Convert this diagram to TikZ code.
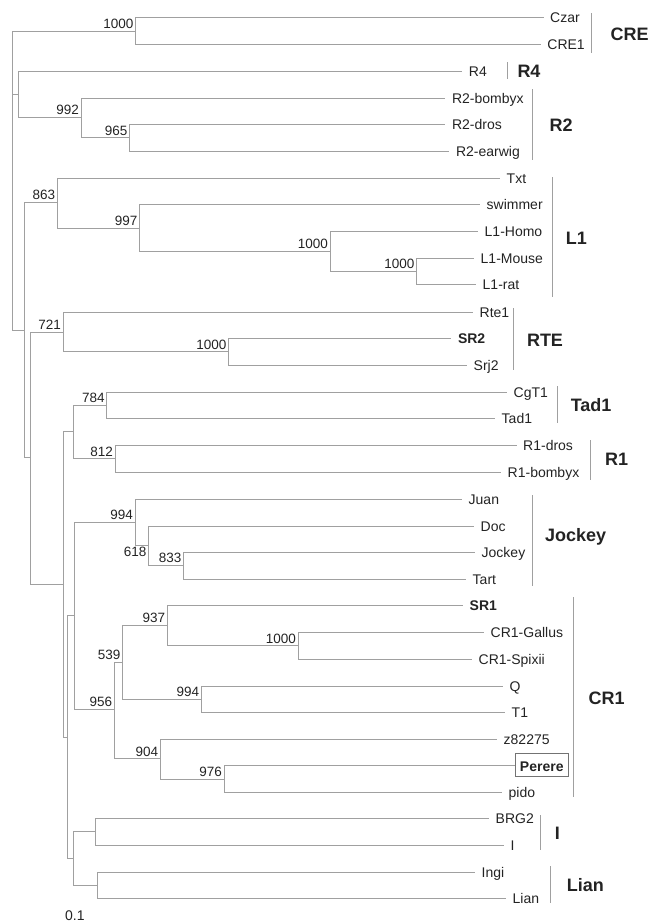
\documentclass[tikz,border=0pt]{standalone}
\usepackage{fontspec}
\setmainfont{Liberation Sans}
\usepackage{tikz}

\definecolor{branch}{RGB}{160,160,160}
\definecolor{ink}{RGB}{35,35,35}

\begin{document}
\begin{tikzpicture}[x=1pt, y=-1pt,
    every node/.style={text=ink, font=\fontsize{14}{16}\selectfont},
    br/.style={draw=branch, line width=.9pt},
    tip/.style={anchor=west, inner xsep=6.5pt, inner ysep=1pt, text height=10pt, text depth=0pt},
    bold/.style={font=\fontsize{14}{16}\selectfont\bfseries},
    boot/.style={anchor=south east, inner xsep=2pt, inner ysep=2pt, text depth=0pt, font=\fontsize{13.5}{15}\selectfont},
    group/.style={anchor=west, inner sep=0pt, text height=12.9pt, text depth=0pt, font=\fontsize{18}{20}\selectfont\bfseries}]
    \useasboundingbox (0, 0) rectangle (650, 922);

    % tips
    \node [tip] (czar) at (543.5, 17.5) {Czar};
    \node [tip] (cre1) at (540.7, 44) {CRE1};
    \node [tip] (r4) at (462.2, 71) {R4};
    \node [tip] (r2bom) at (445.3, 98) {R2-bombyx};
    \node [tip] (r2dro) at (445.3, 124) {R2-dros};
    \node [tip] (r2ear) at (449.3, 151) {R2-earwig};
    \node [tip] (txt) at (500, 178) {Txt};
    \node [tip] (swim) at (480, 204) {swimmer};
    \node [tip] (l1hom) at (478, 231) {L1-Homo};
    \node [tip] (l1mou) at (474, 258) {L1-Mouse};
    \node [tip] (l1rat) at (476, 284) {L1-rat};
    \node [tip] (rte1) at (473, 312) {Rte1};
    \node [tip, bold] (sr2) at (451.3, 338) {SR2};
    \node [tip] (srj2) at (467, 365) {Srj2};
    \node [tip] (cgt1) at (507, 392) {CgT1};
    \node [tip] (tad1) at (495, 418) {Tad1};
    \node [tip] (r1dro) at (516.5, 445) {R1-dros};
    \node [tip] (r1bom) at (501, 472) {R1-bombyx};
    \node [tip] (juan) at (462, 499) {Juan};
    \node [tip] (doc) at (474, 526) {Doc};
    \node [tip] (jock) at (475, 552) {Jockey};
    \node [tip] (tart) at (466, 579) {Tart};
    \node [tip, bold] (sr1) at (463, 605) {SR1};
    \node [tip] (crgal) at (484, 632) {CR1-Gallus};
    \node [tip] (crspi) at (472, 659) {CR1-Spixii};
    \node [tip] (q) at (503, 686) {Q};
    \node [tip] (t1) at (505, 712) {T1};
    \node [tip] (z82) at (497, 739) {z82275};
    \node [tip, bold, draw=black!55, line width=.9pt, inner xsep=4.5pt, inner ysep=5pt, text height=12.6pt] (perere) at (515, 765) {Perere};
    \node [tip] (pido) at (502, 792) {pido};
    \node [tip] (brg2) at (489, 818) {BRG2};
    \node [tip] (ii) at (504, 845) {I};
    \node [tip] (ingi) at (475, 872) {Ingi};
    \node [tip] (lian) at (506, 898) {Lian};

    % internal nodes
    \coordinate (root) at (12.5, 31);
    \coordinate (ncre) at (135.5, 31);
    \coordinate (nr) at (18, 94);
    \coordinate (n992) at (81, 117);
    \coordinate (n965) at (129.7, 137.5);
    \coordinate (n24) at (24, 330);
    \coordinate (n863) at (57.3, 202);
    \coordinate (n997) at (139.6, 228);
    \coordinate (nl1) at (330, 251);
    \coordinate (nmr) at (416.5, 271);
    \coordinate (n31) at (30.7, 457);
    \coordinate (n721) at (63, 332);
    \coordinate (nrte) at (228.6, 351.5);
    \coordinate (n63) at (63.3, 584);
    \coordinate (n73) at (73.3, 431);
    \coordinate (n784) at (106.8, 405);
    \coordinate (n812) at (115, 458.5);
    \coordinate (n68) at (67.7, 737);
    \coordinate (n74) at (74, 615);
    \coordinate (n994j) at (135, 522);
    \coordinate (n618) at (148.7, 545);
    \coordinate (n833) at (183.7, 565);
    \coordinate (n956) at (114.3, 709);
    \coordinate (n539) at (122.7, 662);
    \coordinate (n937) at (167.3, 625);
    \coordinate (ncr) at (298.2, 645.5);
    \coordinate (n994q) at (201.3, 699);
    \coordinate (n904) at (160.3, 758.5);
    \coordinate (n976) at (224, 779);
    \coordinate (nil) at (73.3, 858);
    \coordinate (ni) at (95.7, 831.5);
    \coordinate (nlian) at (97.3, 885);

    % branches
    \draw [br] (root) |- (ncre) (root) |- (nr) (root) |- (n24);
    \draw [br] (ncre) |- (czar) (ncre) |- (cre1);
    \draw [br] (nr) |- (r4) (nr) |- (n992);
    \draw [br] (n992) |- (r2bom) (n992) |- (n965);
    \draw [br] (n965) |- (r2dro) (n965) |- (r2ear);
    \draw [br] (n24) |- (n863) (n24) |- (n31);
    \draw [br] (n863) |- (txt) (n863) |- (n997);
    \draw [br] (n997) |- (swim) (n997) |- (nl1);
    \draw [br] (nl1) |- (l1hom) (nl1) |- (nmr);
    \draw [br] (nmr) |- (l1mou) (nmr) |- (l1rat);
    \draw [br] (n31) |- (n721) (n31) |- (n63);
    \draw [br] (n721) |- (rte1) (n721) |- (nrte);
    \draw [br] (nrte) |- (sr2) (nrte) |- (srj2);
    \draw [br] (n63) |- (n73) (n63) |- (n68);
    \draw [br] (n73) |- (n784) (n73) |- (n812);
    \draw [br] (n784) |- (cgt1) (n784) |- (tad1);
    \draw [br] (n812) |- (r1dro) (n812) |- (r1bom);
    \draw [br] (n68) |- (n74) (n68) |- (nil);
    \draw [br] (n74) |- (n994j) (n74) |- (n956);
    \draw [br] (n994j) |- (juan) (n994j) |- (n618);
    \draw [br] (n618) |- (doc) (n618) |- (n833);
    \draw [br] (n833) |- (jock) (n833) |- (tart);
    \draw [br] (n956) |- (n539) (n956) |- (n904);
    \draw [br] (n539) |- (n937) (n539) |- (n994q);
    \draw [br] (n937) |- (sr1) (n937) |- (ncr);
    \draw [br] (ncr) |- (crgal) (ncr) |- (crspi);
    \draw [br] (n994q) |- (q) (n994q) |- (t1);
    \draw [br] (n904) |- (z82) (n904) |- (n976);
    \draw [br] (n976) |- (perere) (n976) |- (pido);
    \draw [br] (nil) |- (ni) (nil) |- (nlian);
    \draw [br] (ni) |- (brg2) (ni) |- (ii);
    \draw [br] (nlian) |- (ingi) (nlian) |- (lian);

    % bootstrap values
    \node [boot] (bcre) at (ncre) {1000};
    \node [boot] (b992) at (n992) {992};
    \node [boot] (b965) at (n965) {965};
    \node [boot] (b863) at (n863) {863};
    \node [boot] (b997) at (n997) {997};
    \node [boot] (bl1) at (nl1) {1000};
    \node [boot] (bmr) at (nmr) {1000};
    \node [boot] (b721) at (n721) {721};
    \node [boot] (brte) at (nrte) {1000};
    \node [boot] (b784) at (n784) {784};
    \node [boot] (b812) at (n812) {812};
    \node [boot] (b994j) at (n994j) {994};
    \node [boot, anchor=north east, text height=9.7pt] (b618) at (n618) {618};
    \node [boot] (b833) at (n833) {833};
    \node [boot] (b937) at (n937) {937};
    \node [boot] (bcr) at (ncr) {1000};
    \node [boot] (b539) at (n539) {539};
    \node [boot] (b994q) at (n994q) {994};
    \node [boot] (b956) at (n956) {956};
    \node [boot] (b904) at (n904) {904};
    \node [boot] (b976) at (n976) {976};

    % groups
    \draw [br] (591, 13) -- (591, 53);
    \node [group] (gcre) at (610.5, 34) {CRE};
    \draw [br] (507.3, 62) -- (507.3, 79);
    \node [group] (gr4) at (517.3, 71.5) {R4};
    \draw [br] (532.5, 89) -- (532.5, 160);
    \node [group] (gr2) at (549.3, 125) {R2};
    \draw [br] (552.7, 177) -- (552.7, 297);
    \node [group] (gl1) at (565.6, 238) {L1};
    \draw [br] (513.9, 308) -- (513.9, 370);
    \node [group] (grte) at (526.8, 340) {RTE};
    \draw [br] (557.6, 386) -- (557.6, 423);
    \node [group] (gtad) at (570.6, 405) {Tad1};
    \draw [br] (590, 440) -- (590, 480);
    \node [group] (gr1) at (605, 459.5) {R1};
    \draw [br] (532.3, 495) -- (532.3, 586);
    \node [group] (gjock) at (545, 535) {Jockey};
    \draw [br] (573.5, 597) -- (573.5, 797);
    \node [group] (gcr1) at (588.5, 698) {CR1};
    \draw [br] (540.7, 815) -- (540.7, 850);
    \node [group] (gi) at (554.7, 833) {I};
    \draw [br] (550.7, 866) -- (550.7, 903);
    \node [group] (glian) at (566.6, 885) {Lian};

    \node [anchor=south west, inner sep=0pt, text depth=0pt] (scale) at (65, 921) {0.1};
  \end{tikzpicture}
\end{document}
